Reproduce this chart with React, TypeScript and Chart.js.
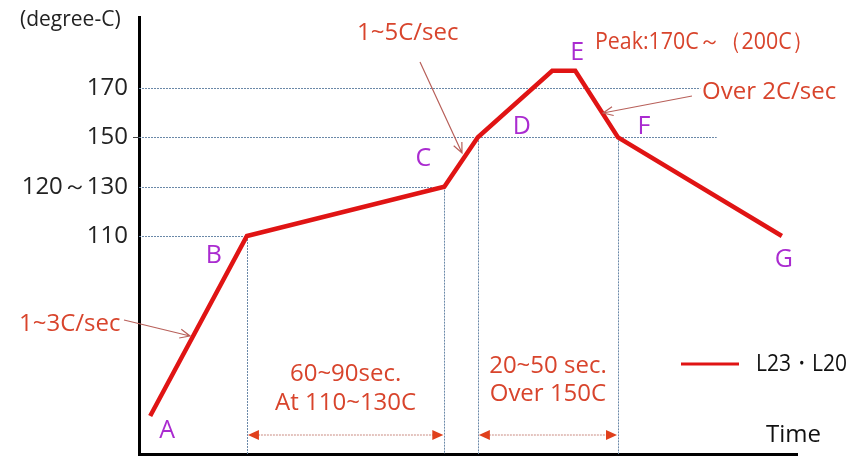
import React, { useEffect, useRef } from "react";
import { Chart, registerables } from "chart.js";

Chart.register(...registerables);

// ---- data ----
const seriesName = "L23・L20";
const timeValues = [1.7, 16.4, 46.4, 51.5, 62.8, 66.3, 72.8, 97.7];
const tempValues = [37, 110, 130, 150, 177, 177, 150, 110];
const pointLetters = ["A", "B", "C", "D", "E", "", "F", "G"];
const yTickValues = [110, 130, 150, 170];
const yTickLabels = ["110", "120～130", "150", "170"];
const yAxisTitle = "(degree-C)";
const xAxisTitle = "Time";

const FONT = "'Open Sans', 'Noto Sans', sans-serif";
const RED_TEXT = "#d8442c";
const PURPLE = "#aa2bd0";
const LINE_RED = "#e01414";
const GUIDE = "#6a88a8";
const ARROW = "#b8605a";

function openArrow(ctx: CanvasRenderingContext2D, x1: number, y1: number, x2: number, y2: number) {
  ctx.save();
  ctx.strokeStyle = ARROW;
  ctx.lineWidth = 1.2;
  ctx.beginPath();
  ctx.moveTo(x1, y1);
  ctx.lineTo(x2, y2);
  const a = Math.atan2(y2 - y1, x2 - x1);
  const L = 11;
  const s = 0.42;
  ctx.moveTo(x2 - L * Math.cos(a - s), y2 - L * Math.sin(a - s));
  ctx.lineTo(x2, y2);
  ctx.lineTo(x2 - L * Math.cos(a + s), y2 - L * Math.sin(a + s));
  ctx.stroke();
  ctx.restore();
}

function doubleArrow(ctx: CanvasRenderingContext2D, xa: number, xb: number, y: number) {
  ctx.save();
  ctx.strokeStyle = "#c98a80";
  ctx.lineWidth = 1;
  ctx.setLineDash([2, 1]);
  ctx.beginPath();
  ctx.moveTo(xa + 8, y);
  ctx.lineTo(xb - 8, y);
  ctx.stroke();
  ctx.setLineDash([]);
  ctx.fillStyle = "#e0401c";
  ctx.beginPath();
  ctx.moveTo(xa + 1, y);
  ctx.lineTo(xa + 12, y - 5);
  ctx.lineTo(xa + 12, y + 5);
  ctx.closePath();
  ctx.fill();
  ctx.beginPath();
  ctx.moveTo(xb - 1, y);
  ctx.lineTo(xb - 12, y - 5);
  ctx.lineTo(xb - 12, y + 5);
  ctx.closePath();
  ctx.fill();
  ctx.restore();
}

function text(
  ctx: CanvasRenderingContext2D,
  s: string,
  x: number,
  y: number,
  color: string,
  size: number,
  align: CanvasTextAlign = "left",
  maxWidth?: number
) {
  ctx.save();
  ctx.font = `${size}px ${FONT}`;
  ctx.fillStyle = color;
  ctx.textAlign = align;
  ctx.textBaseline = "middle";
  if (maxWidth) ctx.fillText(s, x, y, maxWidth);
  else ctx.fillText(s, x, y);
  ctx.restore();
}

const guidePlugin = {
  id: "guides",
  beforeDatasetsDraw(chart: any) {
    const { ctx, chartArea, scales } = chart;
    const xs = scales.x;
    const ys = scales.y;
    const px = (i: number) => xs.getPixelForValue(timeValues[i]);
    const py = (i: number) => ys.getPixelForValue(tempValues[i]);
    ctx.save();
    ctx.strokeStyle = GUIDE;
    ctx.lineWidth = 1;
    ctx.setLineDash([2, 1]);
    const hLine = (v: number, xEnd: number) => {
      const y = Math.round(ys.getPixelForValue(v)) + 0.5;
      ctx.beginPath();
      ctx.moveTo(chartArea.left, y);
      ctx.lineTo(xEnd, y);
      ctx.stroke();
    };
    hLine(170, xs.getPixelForValue(85.3));
    hLine(150, xs.getPixelForValue(87.8));
    hLine(130, px(2));
    hLine(110, px(1));
    const vLine = (i: number) => {
      const x = Math.round(px(i)) + 0.5;
      ctx.beginPath();
      ctx.moveTo(x, py(i));
      ctx.lineTo(x, chartArea.bottom);
      ctx.stroke();
    };
    [1, 2, 3, 6].forEach(vLine);
    // small tick mark at 150
    ctx.setLineDash([]);
    ctx.strokeStyle = "#444";
    const y150 = Math.round(ys.getPixelForValue(150)) + 0.5;
    ctx.beginPath();
    ctx.moveTo(chartArea.left - 6, y150);
    ctx.lineTo(chartArea.left, y150);
    ctx.stroke();
    ctx.restore();
  },
  afterDatasetsDraw(chart: any) {
    const { ctx, chartArea, scales } = chart;
    const xs = scales.x;
    const ys = scales.y;
    const px = (i: number) => xs.getPixelForValue(timeValues[i]);
    const py = (i: number) => ys.getPixelForValue(tempValues[i]);

    // point letters
    const offs: Record<string, [number, number]> = {
      A: [17, 15], B: [-33, 20], C: [-21, -28], D: [44, -10], E: [25, -18], F: [26, -10], G: [2, 24],
    };
    pointLetters.forEach((L, i) => {
      if (!L) return;
      const [dx, dy] = offs[L];
      text(ctx, L, px(i) + dx, py(i) + dy, PURPLE, 25, "center");
    });

    // axis titles
    text(ctx, yAxisTitle, 20, 20, "#222", 21, "left");
    text(ctx, xAxisTitle, 766, 435, "#111", 24, "left");

    // annotations
    text(ctx, "1~3C/sec", 19, 324, RED_TEXT, 24, "left");
    openArrow(ctx, 124, 320, 190, 336);
    text(ctx, "1~5C/sec", 357, 33, RED_TEXT, 24, "left");
    openArrow(ctx, 420, 62, 462, 153);
    text(ctx, "Peak:170C～（200C）", 595, 42, RED_TEXT, 24, "left", 218);
    text(ctx, "Over 2C/sec", 702, 92, RED_TEXT, 24, "left");
    openArrow(ctx, 692, 96, 603, 113);

    const cx1 = (px(1) + px(2)) / 2;
    text(ctx, "60~90sec.", cx1, 374, RED_TEXT, 24, "center");
    text(ctx, "At 110~130C", cx1, 403, RED_TEXT, 24, "center");
    const cx2 = (px(3) + px(6)) / 2;
    text(ctx, "20~50 sec.", cx2, 366, RED_TEXT, 24, "center");
    text(ctx, "Over 150C", cx2, 394, RED_TEXT, 24, "center");

    const ay = chartArea.bottom - 19;
    doubleArrow(ctx, px(1), px(2), ay);
    doubleArrow(ctx, px(3), px(6), ay);

    // legend
    const ds = chart.data.datasets[0];
    ctx.save();
    ctx.strokeStyle = ds.borderColor;
    ctx.lineWidth = 3;
    ctx.beginPath();
    ctx.moveTo(681, 364);
    ctx.lineTo(739, 364);
    ctx.stroke();
    ctx.restore();
    text(ctx, ds.label, 756, 364, "#111", 24, "left", 91);
  },
};

export default function App() {
  const ref = useRef<HTMLCanvasElement | null>(null);
  useEffect(() => {
    if (!ref.current) return;
    const chart = new Chart(ref.current, {
      type: "line",
      data: {
        datasets: [
          {
            label: seriesName,
            data: timeValues.map((t, i) => ({ x: t, y: tempValues[i] })),
            borderColor: LINE_RED,
            borderWidth: 4.5,
            pointRadius: 0,
            tension: 0,
            fill: false,
          },
        ],
      },
      options: {
        animation: false,
        responsive: true,
        maintainAspectRatio: false,
        layout: { padding: { top: 17, right: 52, bottom: 2, left: 0 } },
        plugins: { legend: { display: false }, tooltip: { enabled: false } },
        scales: {
          x: {
            type: "linear",
            min: 0,
            max: 100,
            ticks: { display: false },
            grid: { display: false, drawTicks: false },
            border: { display: true, color: "#000", width: 3 },
            afterFit: (s: any) => {
              s.height = 0;
              s.paddingLeft = 0;
              s.paddingRight = 0;
            },
          },
          y: {
            type: "linear",
            min: 21.6,
            max: 198.8,
            afterBuildTicks: (s: any) => {
              s.ticks = yTickValues.map((v) => ({ value: v }));
            },
            ticks: {
              callback: (v: any) => {
                const i = yTickValues.indexOf(Number(v));
                return i >= 0 ? yTickLabels[i] : "";
              },
              font: { family: FONT, size: 24 },
              color: "#222",
              padding: 11,
            },
            grid: { display: false, drawTicks: false },
            border: { display: true, color: "#000", width: 3 },
            afterFit: (s: any) => {
              s.width = 139;
              s.paddingTop = 0;
              s.paddingBottom = 0;
            },
          },
        },
      },
      plugins: [guidePlugin],
    });
    return () => chart.destroy();
  }, []);
  return (
    <div style={{ position: "absolute", left: 0, top: 0, width: 849, height: 456, background: "#fff" }}>
      <canvas ref={ref} />
    </div>
  );
}
